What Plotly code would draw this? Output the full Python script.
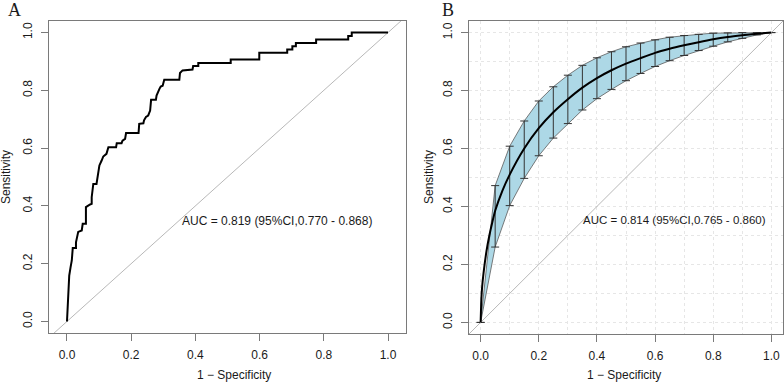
import plotly.graph_objects as go

# ---------------- Panel A: empirical ROC ----------------
a_fpr = [0, 0.002, 0.004, 0.007, 0.011, 0.015, 0.018, 0.028, 0.028, 0.032, 0.035, 0.046,
         0.049, 0.059, 0.059, 0.072, 0.077, 0.077, 0.082, 0.092, 0.097, 0.101, 0.108, 0.113,
         0.123, 0.129, 0.153, 0.155, 0.170, 0.173, 0.181, 0.184, 0.223, 0.225, 0.238, 0.240,
         0.246, 0.253, 0.259, 0.262, 0.277, 0.279, 0.288, 0.292, 0.298, 0.303, 0.350, 0.352,
         0.360, 0.391, 0.393, 0.409, 0.409, 0.510, 0.510, 0.599, 0.599, 0.686, 0.686, 0.702,
         0.702, 0.713, 0.713, 0.776, 0.776, 0.876, 0.876, 0.887, 0.887, 1.0]
a_tpr = [0, 0.044, 0.107, 0.159, 0.186, 0.211, 0.254, 0.254, 0.274, 0.292, 0.310, 0.315,
         0.338, 0.338, 0.396, 0.405, 0.407, 0.430, 0.476, 0.476, 0.511, 0.540, 0.557, 0.571,
         0.580, 0.603, 0.603, 0.617, 0.617, 0.626, 0.632, 0.652, 0.652, 0.684, 0.686, 0.696,
         0.708, 0.713, 0.730, 0.767, 0.767, 0.782, 0.805, 0.813, 0.816, 0.837, 0.837, 0.860,
         0.869, 0.872, 0.884, 0.884, 0.895, 0.895, 0.907, 0.907, 0.930, 0.930, 0.941, 0.941,
         0.953, 0.953, 0.964, 0.964, 0.976, 0.976, 0.988, 0.988, 1.0, 1.0]
a_label = "AUC = 0.819 (95%CI,0.770 - 0.868)"

# ---------------- Panel B: smoothed ROC with CI ----------------
b_fpr = [0, 0.0025, 0.005, 0.01, 0.02, 0.03, 0.04, 0.05, 0.075, 0.1, 0.15, 0.2, 0.25, 0.3,
         0.35, 0.4, 0.45, 0.5, 0.55, 0.6, 0.65, 0.7, 0.75, 0.8, 0.85, 0.9, 0.95, 1.0]
b_tpr = [0, 0.08, 0.12, 0.17, 0.245, 0.30, 0.345, 0.385, 0.455, 0.51, 0.60, 0.67, 0.725, 0.77,
         0.81, 0.843, 0.87, 0.893, 0.912, 0.93, 0.944, 0.956, 0.967, 0.977, 0.985, 0.991, 0.996, 1.0]

ci_fpr = [0, 0.05, 0.1, 0.15, 0.2, 0.25, 0.3, 0.35, 0.4, 0.45, 0.5, 0.55, 0.6, 0.65, 0.7,
          0.75, 0.8, 0.85, 0.9, 0.95, 1.0]
ci_mid = [0, 0.385, 0.51, 0.60, 0.67, 0.725, 0.77, 0.81, 0.843, 0.87, 0.893, 0.912, 0.93,
          0.944, 0.956, 0.967, 0.977, 0.985, 0.991, 0.996, 1.0]
ci_high = [0, 0.472, 0.608, 0.695, 0.764, 0.813, 0.853, 0.887, 0.913, 0.934, 0.951, 0.964,
           0.975, 0.984, 0.990, 0.994, 0.998, 0.999, 1.0, 1.0, 1.0]
ci_low = [0, 0.260, 0.403, 0.497, 0.575, 0.636, 0.686, 0.733, 0.772, 0.804, 0.834, 0.859,
          0.883, 0.903, 0.921, 0.938, 0.953, 0.968, 0.980, 0.992, 1.0]
b_label = "AUC = 0.814 (95%CI,0.765 - 0.860)"

tick_vals = [0.0, 0.2, 0.4, 0.6, 0.8, 1.0]
tick_text = ["0.0", "0.2", "0.4", "0.6", "0.8", "1.0"]

W, H = 784, 383
FONT = "Liberation Sans, Arial, sans-serif"
TXT = "#1a1a1a"
BOX = "#7a7a7a"

fig = go.Figure()

diag = [-0.2, 1.2]
# Panel A
fig.add_trace(go.Scatter(x=diag, y=diag, mode="lines", line=dict(color="#b8b8b8", width=1),
                         xaxis="x", yaxis="y", hoverinfo="skip"))
fig.add_trace(go.Scatter(x=a_fpr, y=a_tpr, mode="lines", line=dict(color="black", width=2),
                         xaxis="x", yaxis="y"))

# Panel B
fig.add_trace(go.Scatter(x=ci_fpr + ci_fpr[::-1], y=ci_high + ci_low[::-1], mode="lines",
                         fill="toself", fillcolor="#ADD8E6",
                         line=dict(color="#5a5a5a", width=0.8), xaxis="x2", yaxis="y2",
                         hoverinfo="skip"))
fig.add_trace(go.Scatter(x=ci_fpr, y=ci_mid, mode="markers", marker=dict(size=0.1, color="rgba(0,0,0,0)"),
                         error_y=dict(type="data", symmetric=False,
                                      array=[h - m for h, m in zip(ci_high, ci_mid)],
                                      arrayminus=[m - l for m, l in zip(ci_mid, ci_low)],
                                      color="#333333", thickness=1, width=4),
                         xaxis="x2", yaxis="y2"))
fig.add_trace(go.Scatter(x=diag, y=diag, mode="lines", line=dict(color="#b8b8b8", width=1),
                         xaxis="x2", yaxis="y2", hoverinfo="skip"))
fig.add_trace(go.Scatter(x=b_fpr, y=b_tpr, mode="lines", line=dict(color="black", width=2, shape="spline", smoothing=0.6),
                         xaxis="x2", yaxis="y2"))

axis_common = dict(showline=True, linecolor=BOX, linewidth=1.2, mirror=True,
                   ticks="outside", ticklen=7, tickcolor=BOX, tickwidth=1,
                   tickvals=tick_vals, ticktext=tick_text, zeroline=False,
                   tickfont=dict(family=FONT, size=12, color=TXT))

grid_b = dict(showgrid=True, gridcolor="#e6e6e6", griddash="dot", gridwidth=1,
              minor=dict(dtick=0.1, tick0=0, showgrid=True, gridcolor="#e6e6e6",
                         griddash="dot", gridwidth=1, ticks=""))

fig.update_layout(
    width=W, height=H, margin=dict(l=0, r=0, t=0, b=0),
    paper_bgcolor="white", plot_bgcolor="white", showlegend=False,
    xaxis=dict(domain=[49 / W, 406 / W], range=[-0.056, 1.056], showgrid=False,
               anchor="y", ticklabelstandoff=3, **axis_common),
    yaxis=dict(domain=[1 - 333 / H, 1 - 21 / H], range=[-0.04, 1.04], showgrid=False,
               anchor="x", tickangle=-90, ticklabelstandoff=4, **axis_common),
    xaxis2=dict(domain=[469 / W, 783 / W], range=[-0.04, 1.04], anchor="y2",
                ticklabelstandoff=3, **axis_common, **grid_b),
    yaxis2=dict(domain=[1 - 334 / H, 1 - 21 / H], range=[-0.04, 1.04], anchor="x2",
                tickangle=-90, ticklabelstandoff=4, **axis_common, **grid_b),
)

def px(x):
    return x / W

def py(y):
    return 1 - y / H

C = dict(xanchor="center", yanchor="middle", showarrow=False)
SERIF = "Liberation Serif, Times New Roman, serif"
ann = []
ann.append(dict(x=px(14), y=py(10.5), xref="paper", yref="paper", text="A",
                font=dict(family=SERIF, size=18, color=TXT), **C))
ann.append(dict(x=px(448), y=py(10.5), xref="paper", yref="paper", text="B",
                font=dict(family=SERIF, size=18, color=TXT), **C))
ann.append(dict(x=px(234), y=py(375), xref="paper", yref="paper", text="1 \u2212 Specificity",
                font=dict(family=FONT, size=12, color=TXT), **C))
ann.append(dict(x=px(624), y=py(375), xref="paper", yref="paper", text="1 \u2212 Specificity",
                font=dict(family=FONT, size=12, color=TXT), **C))
ann.append(dict(x=px(6), y=py(177), xref="paper", yref="paper", text="Sensitivity", textangle=-90,
                font=dict(family=FONT, size=12, color=TXT), **C))
ann.append(dict(x=px(429), y=py(177), xref="paper", yref="paper", text="Sensitivity", textangle=-90,
                font=dict(family=FONT, size=12, color=TXT), **C))
ann.append(dict(x=0.654, y=0.349, xref="x", yref="y", text=a_label,
                font=dict(family=FONT, size=12, color=TXT), **C))
ann.append(dict(x=0.666, y=0.352, xref="x2", yref="y2", text=b_label,
                font=dict(family=FONT, size=11.5, color=TXT), **C))
fig.update_layout(annotations=ann)

fig.write_html("out.html", config={"displayModeBar": False},
               post_script="document.body.style.margin='0';document.body.style.overflow='hidden';")
